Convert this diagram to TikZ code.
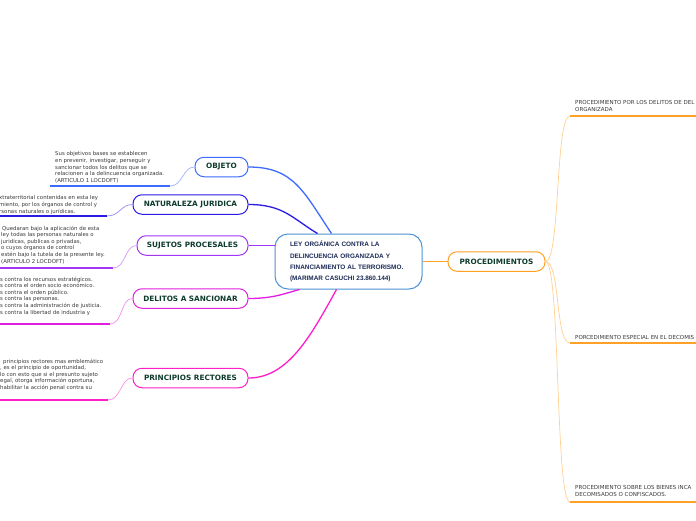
\documentclass[tikz,border=0pt]{standalone}
\usepackage{fontspec}
\setmainfont{DejaVu Sans}
\newfontfamily\arialf{Liberation Sans}
\usetikzlibrary{calc}
\definecolor{cobj}{HTML}{3D6BFF}
\definecolor{cnat}{HTML}{2A1AE8}
\definecolor{csuj}{HTML}{A236F5}
\definecolor{cdel}{HTML}{E21EE0}
\definecolor{cpri}{HTML}{FF1EC8}
\definecolor{ccen}{HTML}{4A92D4}
\definecolor{cpro}{HTML}{FFA126}
\definecolor{labeltxt}{HTML}{0E3B2E}
\definecolor{centxt}{HTML}{1B2A55}
\definecolor{notetxt}{HTML}{3A3A3A}
\tikzset{
  topic/.style={draw, rounded corners=9pt, line width=1pt, fill=white, inner sep=0pt,
    font=\bfseries\fontsize{7.3}{8}\selectfont, text=labeltxt, minimum height=19.5pt},
  branch/.style={line width=1.3pt},
  twig/.style={line width=0.7pt},
  uline/.style={line width=1.4pt},
  note/.style={anchor=north west, inner sep=0pt, align=left,
    font=\fontsize{5.4}{6.6}\selectfont, text=notetxt},
  rnote/.style={anchor=north west, inner sep=0pt, align=left,
    font=\fontsize{5.5}{7}\selectfont, text=notetxt}
}
\begin{document}
\begin{tikzpicture}[x=1pt,y=-1pt]
\fill[white] (0,0) rectangle (696,520);
\useasboundingbox (0,0) rectangle (696,520);

% central node
\node[draw=ccen, line width=1pt, rounded corners=13pt, fill=white,
  minimum width=147pt, minimum height=55pt, inner xsep=15pt, inner ysep=0pt,
  text width=117pt, align=left, text=centxt,
  font=\arialf\bfseries\fontsize{6.4}{11.3}\selectfont] (cen) at (348.5,261.5)
  {LEY ORGÁNICA CONTRA LA\\DELINCUENCIA ORGANIZADA Y\\FINANCIAMIENTO AL TERRORISMO.\\(MARIMAR CASUCHI 23.860.144)};

% topics
\node[topic, draw=cobj, minimum width=53pt] (obj) at (221.5,167) {OBJETO};
\node[topic, draw=cnat, minimum width=115pt] (nat) at (190.5,204.5) {NATURALEZA JURIDICA};
\node[topic, draw=csuj, minimum width=111pt] (suj) at (192.5,245.5) {SUJETOS PROCESALES};
\node[topic, draw=cdel, minimum width=115pt] (del) at (190.5,298.5) {DELITOS A SANCIONAR};
\node[topic, draw=cpri, minimum width=115pt] (pri) at (190.5,378) {PRINCIPIOS RECTORES};
\node[topic, draw=cpro, minimum width=97pt] (pro) at (496.5,261.5) {PROCEDIMIENTOS};

% main branches
\draw[branch, cobj] (obj.east) .. controls +(45,0) and +(-28,-42) .. ([xshift=57pt]cen.north west);
\draw[branch, cnat] (nat.east) .. controls +(35,0) and +(-25,-15) .. ([xshift=43pt]cen.north west);
\draw[branch, csuj] (suj.east) -- (suj.east -| cen.west);
\draw[branch, cdel] (del.east) .. controls +(25,0) and +(-15,4) .. ([xshift=25pt]cen.south west);
\draw[branch, cpri] (pri.east) .. controls +(40,0) and +(-25,45) .. ([xshift=62pt]cen.south west);
\draw[branch, cpro] (cen.east) -- (pro.west);

% OBJETO note
\node[note] (nobj) at (55,151.5) {Sus objetivos bases se establecen\\en prevenir, investigar, perseguir y\\sancionar todos los delitos que se\\relacionen a la delincuencia organizada.\\(ARTICULO 1 LOCDOFT)};
\coordinate (uobjL) at (50,186);
\coordinate (uobjR) at (170,186);
\draw[uline, cobj] (uobjL) -- (uobjR);
\draw[twig, cobj!50] (uobjR) .. controls +(13,0) and +(-12,0) .. (obj.west);

% NATURALEZA note
\node[note] (nnat) at (-1,195.5) {xtraterritorial contenidas en esta ley\\miento, por los órganos de control y\\rsonas naturales o jurídicas.};
\coordinate (unatL) at (0,216);
\coordinate (unatR) at (107,216);
\draw[uline, cnat] (unatL) -- (unatR);
\draw[twig, cnat!50] (unatR) .. controls +(13,0) and +(-12,0) .. (nat.west);

% SUJETOS note
\node[note] (nsuj) at (1,225.5) {\hspace{1pt}Quedaran bajo la aplicación de esta\\ley todas las personas naturales o\\juridicas, publicas o privadas,\\o cuyos órganos de control\\estén bajo la tutela de la presente ley.\\(ARTICULO 2 LOCDOFT)};
\coordinate (usujL) at (0,268);
\coordinate (usujR) at (113,268);
\draw[uline, csuj] (usujL) -- (usujR);
\draw[twig, csuj!50] (usujR) .. controls +(13,0) and +(-12,0) .. (suj.west);

% DELITOS note
\node[note] (ndel) at (0,276.5) {s contra los recursos estratégicos.\\s contra el orden socio económico.\\s contra el orden público.\\s contra las personas.\\s contra la administración de justicia.\\s contra la libertad de industria y};
\coordinate (udelL) at (0,324);
\coordinate (udelR) at (110,324);
\draw[uline, cdel] (udelL) -- (udelR);
\draw[twig, cdel!50] (udelR) .. controls +(13,0) and +(-12,0) .. (del.west);

% PRINCIPIOS note
\node[note] (npri) at (0,358.5) {\hspace{3pt}principios rectores mas emblemático\\, es el principio de oportunidad,\\lo con esto que si el presunto sujeto\\egal, otorga información oportuna,\\habilitar la acción penal contra su};
\coordinate (upriL) at (0,400);
\coordinate (upriR) at (108,400);
\draw[uline, cpri] (upriL) -- (upriR);
\draw[twig, cpri!50] (upriR) .. controls +(13,0) and +(-12,0) .. (pri.west);

% right notes
\node[rnote] (r1) at (575,100.5) {PROCEDIMIENTO POR LOS DELITOS DE DEL\\ORGANIZADA};
\coordinate (r1L) at (570,116);
\coordinate (r1R) at (696,116);
\draw[uline, cpro] (r1L) -- (r1R);
\draw[twig, cpro!50] (pro.east) .. controls +(15,0) and +(-15,0) .. (r1L);

\node[rnote] (r2) at (575,335) {PORCEDIMIENTO ESPECIAL EN EL DECOMIS};
\coordinate (r2L) at (570,343);
\coordinate (r2R) at (696,343);
\draw[uline, cpro] (r2L) -- (r2R);
\draw[twig, cpro!50] (pro.east) .. controls +(15,0) and +(-15,0) .. (r2L);

\node[rnote] (r3) at (575,485) {PROCEDIMIENTO SOBRE LOS BIENES INCA\\DECOMISADOS O CONFISCADOS.};
\coordinate (r3L) at (570,502);
\coordinate (r3R) at (696,502);
\draw[uline, cpro] (r3L) -- (r3R);
\draw[twig, cpro!50] (pro.east) .. controls +(15,0) and +(-15,0) .. (r3L);
\end{tikzpicture}
\end{document}
